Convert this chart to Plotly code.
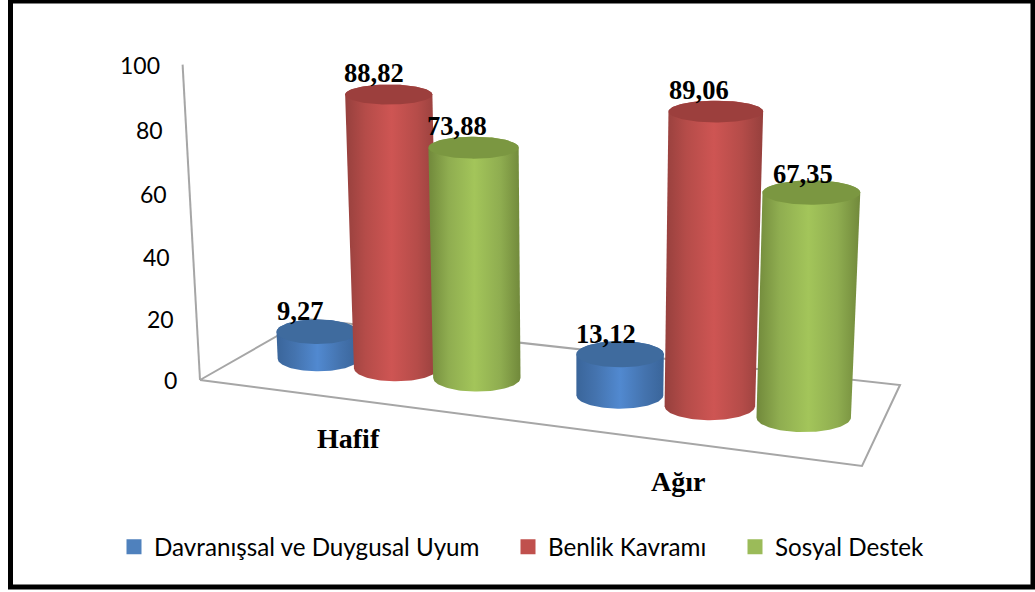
import numpy as np
import plotly.graph_objects as go

categories = ["Hafif", "Ağır"]
series_names = ["Davranışsal ve Duygusal Uyum", "Benlik Kavramı", "Sosyal Destek"]
davranissal = [9.27, 13.12]
benlik = [88.82, 89.06]
sosyal = [73.88, 67.35]
tick_values = [0, 20, 40, 60, 80, 100]

series_values = [davranissal, benlik, sosyal]
value_text = [["9,27", "13,12"], ["88,82", "89,06"], ["73,88", "67,35"]]
# label nudges (pixels) relative to the top centre of each cylinder
label_shift = [[(-17, -21), (-14, -20)], [(-15, -22), (-17, -22)], [(-17, -22), (-8, -19)]]

side_scales = [
    [[0, "#3a659a"], [0.22, "#4473ae"], [0.5, "#5189d0"], [0.78, "#4473ae"], [1, "#3a659a"]],
    [[0, "#96403d"], [0.22, "#b54c49"], [0.5, "#ce5553"], [0.78, "#b54c49"], [1, "#96403d"]],
    [[0, "#71893b"], [0.22, "#8fad50"], [0.5, "#a3c55a"], [0.78, "#8fad50"], [1, "#71893b"]],
]
cap_colors = ["#3f6b9e", "#9c3f3d", "#7b9741"]
swatch_colors = ["#4f81bd", "#c0504d", "#9bbb59"]

# ---- perspective of the floor + value axis, calibrated on the picture frame
floor_world = [(0, 0), (1, 0), (1, 1), (0, 1)]
floor_screen = [(200, 380), (862, 466), (900, 385), (307, 319)]


def floor_matrix():
    A, b = [], []
    for (u, v), (x, y) in zip(floor_world, floor_screen):
        A.append([u, v, 1, 0, 0, 0, -u * x, -v * x]); b.append(x)
        A.append([0, 0, 0, u, v, 1, -u * y, -v * y]); b.append(y)
    h = np.linalg.solve(np.array(A, float), np.array(b, float))
    return np.append(h, 1.0).reshape(3, 3)


H = floor_matrix()
group_u = [0.257, 0.757]
bar_step = 0.136
bar_v = 0.45
radius_u = [0.072, 0.067]


def ellipse_ratio(z):
    return 0.31 - 0.09 * z / 100


z_anchors = [
    ((0, 0, 100), (182, 62)),
    ((0, 0, 100), (182, 62)),
    ((group_u[0], bar_v, 88.82), (391, 95)),
    ((group_u[0] + bar_step, bar_v, 73.88), (474.5, 148)),
    ((group_u[1], bar_v, 89.06), (716.5, 115)),
    ((group_u[1] + bar_step, bar_v, 67.35), (808, 195)),
]


def z_column():
    A, b = [], []
    for (u, v, z), (x, y) in z_anchors:
        q = H @ np.array([u, v, 1.0])
        A.append([z, 0, -x * z]); b.append(x * q[2] - q[0])
        A.append([0, z, -y * z]); b.append(y * q[2] - q[1])
    return np.linalg.lstsq(np.array(A), np.array(b), rcond=None)[0]


Zc = z_column()


def proj(u, v, z):
    u, v, z = np.asarray(u, float), np.asarray(v, float), np.asarray(z, float)
    w = H[2, 0] * u + H[2, 1] * v + H[2, 2] + Zc[2] * z
    x = (H[0, 0] * u + H[0, 1] * v + H[0, 2] + Zc[0] * z) / w
    y = (H[1, 0] * u + H[1, 1] * v + H[1, 2] + Zc[1] * z) / w
    return x, y


def rim(uc, ru, z, t=None):
    """Level screen ellipse of a cylinder section at height z."""
    if t is None:
        t = np.linspace(0, 2 * np.pi, 121)
    cx, cy = proj(uc, bar_v, z)
    xl, _ = proj(uc - ru, bar_v, z)
    xr, _ = proj(uc + ru, bar_v, z)
    rx = (xr - xl) / 2
    return cx + rx * np.cos(t), cy + rx * ellipse_ratio(z) * np.sin(t)


def body(uc, ru, value):
    """Outline of the cylinder side: near half of the base, far half of the top."""
    bx, by = rim(uc, ru, 0, np.linspace(np.pi, 0, 61))      # lower half, left to right
    tx, ty = rim(uc, ru, value, np.linspace(0, -np.pi, 61))  # upper half, right to left
    return np.concatenate([bx, tx, bx[:1]]), np.concatenate([by, ty, by[:1]])


fig = go.Figure()

GRAY = "#a6a6a6"
fx, fy = proj([0, 1, 1, 0, 0], [0, 0, 1, 1, 0], [0, 0, 0, 0, 0])
fig.add_trace(go.Scatter(x=fx, y=fy, mode="lines", line=dict(color=GRAY, width=2),
                         hoverinfo="skip", showlegend=False))
ax, ay = proj([0, 0], [0, 0], [tick_values[0], tick_values[-1]])
fig.add_trace(go.Scatter(x=ax, y=ay, mode="lines", line=dict(color=GRAY, width=2),
                         hoverinfo="skip", showlegend=False))

annotations = []
for g, cat in enumerate(categories):
    for s, vals in enumerate(series_values):
        uc = group_u[g] + (s - 1) * bar_step
        x, y = body(uc, radius_u[g], vals[g])
        left, right = float(x.min()), float(x.max())
        fig.add_trace(go.Scatter(
            x=x, y=y, mode="lines", line=dict(width=0), fill="toself",
            fillgradient=dict(type="horizontal", colorscale=side_scales[s], start=left, stop=right),
            name=series_names[s], showlegend=False, hoverinfo="skip"))
        cx, cy = rim(uc, radius_u[g], vals[g])
        fig.add_trace(go.Scatter(
            x=cx, y=cy, mode="lines", line=dict(width=0), fill="toself",
            fillcolor=cap_colors[s], name=series_names[s], showlegend=False, hoverinfo="skip"))
        px, py = proj(uc, bar_v, vals[g])
        dx, dy = label_shift[s][g]
        annotations.append(dict(
            x=float(px), y=float(py), xref="x", yref="y", text="<b>" + value_text[s][g] + "</b>",
            showarrow=False, xshift=dx, yshift=-dy,
            font=dict(family="Liberation Serif", size=26.5, color="#000000")))

for t in tick_values:
    px, py = proj(0, 0, t)
    annotations.append(dict(x=float(px), y=float(py), xref="x", yref="y", text=str(t), showarrow=False,
                            xanchor="right", xshift=-21, font=dict(family="Lato", size=23, color="#000000")))

for g, cat in enumerate(categories):
    px, py = proj(group_u[g], 0, 0)
    annotations.append(dict(x=float(px), y=float(py), xref="x", yref="y", text="<b>" + cat + "</b>",
                            showarrow=False, yshift=-39, xshift=-3,
                            font=dict(family="Liberation Serif", size=28, color="#000000")))

legend_names = ["legend", "legend2", "legend3"]
legend_text_left = [154, 548, 775]
legend_layout = {}
for s, nm in enumerate(series_names):
    fig.add_trace(go.Scatter(x=[None], y=[None], mode="markers", name=nm, legend=legend_names[s],
                             marker=dict(symbol="square", size=15, color=swatch_colors[s])))
    legend_layout[legend_names[s]] = dict(
        x=(legend_text_left[s] - 40) / 1035, y=1 - 547 / 592, xanchor="left", yanchor="middle",
        font=dict(family="Lato", size=24.2, color="#000000"), bgcolor="rgba(0,0,0,0)")

fig.update_layout(
    width=1035, height=592, margin=dict(l=0, r=0, t=0, b=0),
    paper_bgcolor="#ffffff", plot_bgcolor="#ffffff",
    xaxis=dict(range=[0, 1035], visible=False, fixedrange=True),
    yaxis=dict(range=[592, 0], visible=False, fixedrange=True),
    annotations=annotations,
    shapes=[dict(type="rect", xref="paper", yref="paper",
                 x0=10.5 / 1035, x1=1033 / 1035, y0=1 - 587 / 592, y1=1 - 1 / 592,
                 line=dict(color="#000000", width=5))],
    **legend_layout,
)
fig.write_html("out.html", config=dict(displayModeBar=False),
               post_script="document.body.style.margin='0';")
